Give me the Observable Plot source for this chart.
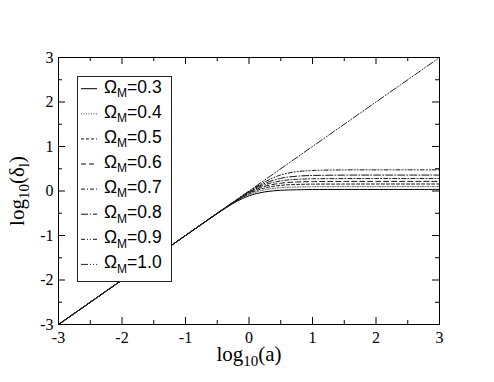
<!DOCTYPE html>
<html><head><meta charset="utf-8">
<script src="https://cdn.jsdelivr.net/npm/d3@7"></script>
<script src="https://cdn.jsdelivr.net/npm/@observablehq/plot@0.6"></script>
<style>body{margin:0;background:#fff}</style>
</head><body><div id="chart"></div>
<script>
// x grid: log10(a)
const logA = [-3, -1, -0.75, -0.5, -0.25, 0, 0.25, 0.5, 0.75, 1, 1.5, 2, 3];
const omegaLabels = ["0.3", "0.4", "0.5", "0.6", "0.7", "0.8", "0.9", "1.0"];
// log10(delta_l) for each Omega_M
const om03 = [-3, -1, -0.752, -0.507, -0.280, -0.108, -0.020, 0.016, 0.028, 0.033, 0.035, 0.035, 0.035];
const om04 = [-3, -1, -0.751, -0.505, -0.270, -0.081, 0.028, 0.074, 0.090, 0.096, 0.098, 0.099, 0.099];
const om05 = [-3, -1, -0.751, -0.503, -0.265, -0.059, 0.068, 0.126, 0.147, 0.154, 0.156, 0.157, 0.157];
const om06 = [-3, -1, -0.750, -0.502, -0.259, -0.046, 0.105, 0.175, 0.202, 0.211, 0.215, 0.216, 0.216];
const om07 = [-3, -1, -0.750, -0.501, -0.257, -0.031, 0.139, 0.227, 0.262, 0.274, 0.279, 0.280, 0.280];
const om08 = [-3, -1, -0.750, -0.501, -0.255, -0.020, 0.172, 0.285, 0.332, 0.349, 0.357, 0.358, 0.358];
const om09 = [-3, -1, -0.750, -0.500, -0.252, -0.009, 0.206, 0.361, 0.433, 0.461, 0.474, 0.475, 0.476];
const logA10 = [-3, 3];
const om10 = [-3, 3];
const majorTicks = [-3, -2, -1, 0, 1, 2, 3];
const minorTicks = [-2.5, -1.5, -0.5, 0.5, 1.5, 2.5];

const W = 494, H = 382, ML = 58, MR = 55, MT = 57, MB = 58;
const IW = W - ML - MR, IH = H - MT - MB;
const SERIF = "'Liberation Serif', 'Times New Roman', serif";
const SANS = "'Liberation Sans', Arial, sans-serif";

const seriesY = [om03, om04, om05, om06, om07, om08, om09, om10];
const seriesX = [logA, logA, logA, logA, logA, logA, logA, logA10];
const dashes = ["none", "1,1.5", "3,2", "5,3", "4,2,1,2", "7,2,1,2", "4,2,1,2,1,2", "7,2,1,2,1,2"];
const colors = ["#000", "#555", "#111", "#111", "#111", "#111", "#111", "#222"];

const rows = seriesY.map((ys, i) => ys.map((y, j) => ({x: seriesX[i][j], y})));

const lineMarks = rows.map((r, i) => Plot.line(r, {
  x: "x", y: "y", stroke: colors[i], strokeWidth: 1,
  strokeDasharray: dashes[i], curve: "catmull-rom"
}));

const plot = Plot.plot({
  width: W, height: H,
  marginLeft: ML, marginRight: MR, marginTop: MT, marginBottom: MB,
  style: {fontFamily: SERIF, fontSize: "16px", background: "white", color: "black"},
  x: {domain: [-3, 3]},
  y: {domain: [-3, 3]},
  marks: [
    ...lineMarks,
    Plot.ruleX(majorTicks, {stroke: "black", insetTop: IH - 7}),
    Plot.ruleX(majorTicks, {stroke: "black", insetBottom: IH - 7}),
    Plot.ruleX(minorTicks, {stroke: "black", insetTop: IH - 4}),
    Plot.ruleX(minorTicks, {stroke: "black", insetBottom: IH - 4}),
    Plot.ruleY(majorTicks, {stroke: "black", insetRight: IW - 7}),
    Plot.ruleY(majorTicks, {stroke: "black", insetLeft: IW - 7}),
    Plot.ruleY(minorTicks, {stroke: "black", insetRight: IW - 4}),
    Plot.ruleY(minorTicks, {stroke: "black", insetLeft: IW - 4}),
    Plot.frame({stroke: "black"}),
    Plot.axisX(majorTicks, {tickSize: 0, tickPadding: 7, tickFormat: d => String(d), label: null, fontSize: 16}),
    Plot.axisY(majorTicks, {tickSize: 0, tickPadding: 5, tickFormat: d => String(d), label: null, fontSize: 16})
  ]
});
document.getElementById("chart").appendChild(plot);

const svg = d3.select(plot);
svg.selectAll("text").style("font-family", SERIF);

// axis titles
const xt = svg.append("text").attr("x", 249).attr("y", 361).attr("text-anchor", "middle")
  .style("font-family", SERIF).attr("font-size", 21).attr("fill", "black");
xt.append("tspan").text("log");
xt.append("tspan").attr("dy", 5).attr("font-size", 15).text("10");
xt.append("tspan").attr("dy", -5).text("(a)");

const yt = svg.append("text").attr("transform", "translate(24,191) rotate(-90)").attr("text-anchor", "middle")
  .style("font-family", SERIF).attr("font-size", 21).attr("fill", "black");
yt.append("tspan").text("log");
yt.append("tspan").attr("dy", 5).attr("font-size", 15).text("10");
yt.append("tspan").attr("dy", -5).text("(δ");
yt.append("tspan").attr("dy", 5).attr("font-size", 15).text("l");
yt.append("tspan").attr("dy", -5).text(")");

// legend
const lg = svg.append("g").attr("text-anchor", "start");
lg.append("rect").attr("x", 77.5).attr("y", 76.5).attr("width", 94).attr("height", 205)
  .attr("fill", "white").attr("stroke", "#222").attr("stroke-width", 1);
omegaLabels.forEach((lab, i) => {
  const cy = 88.7 + i * 25.1;
  lg.append("line").attr("x1", 81).attr("x2", 97).attr("y1", cy).attr("y2", cy)
    .attr("stroke", colors[i]).attr("stroke-width", 1).attr("stroke-dasharray", dashes[i]);
  const t = lg.append("text").attr("x", 104).attr("y", cy + 3.8).attr("text-anchor", "start")
    .style("font-family", SANS).attr("font-size", 17.5).attr("fill", "black");
  t.append("tspan").text("Ω");
  t.append("tspan").attr("dy", 4.5).attr("font-size", 12).text("M");
  t.append("tspan").attr("dy", -4.5).text("=" + lab);
});
</script>
</body></html>
